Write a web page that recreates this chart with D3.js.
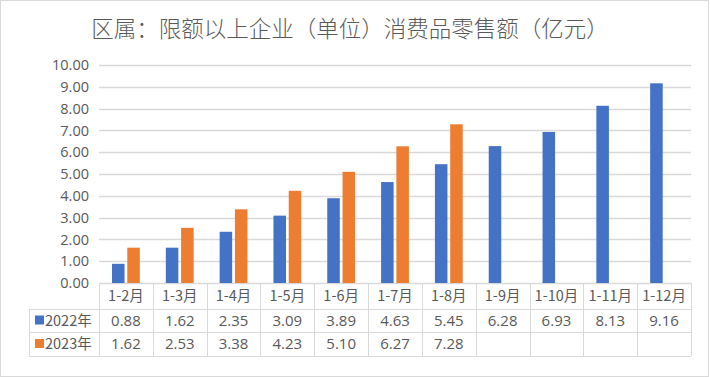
<!DOCTYPE html>
<html lang="zh">
<head>
<meta charset="UTF-8">
<title>区属：限额以上企业（单位）消费品零售额</title>
<script src="https://d3js.org/d3.v7.min.js"></script>
<style>
    body { margin: 0; background: #fff; }
    svg { display: block; font-family: "Noto Sans CJK SC", "Noto Sans", sans-serif; }
</style>
</head>
<body>
<div id="chart"></div>
<script>
    // data
    var months = ['1-2月', '1-3月', '1-4月', '1-5月', '1-6月', '1-7月', '1-8月', '1-9月', '1-10月', '1-11月', '1-12月'];
    var seriesNames = ['2022年', '2023年'];
    var values2022 = [0.88, 1.62, 2.35, 3.09, 3.89, 4.63, 5.45, 6.28, 6.93, 8.13, 9.16];
    var values2023 = [1.62, 2.53, 3.38, 4.23, 5.10, 6.27, 7.28];
    var yTicks = [0, 1, 2, 3, 4, 5, 6, 7, 8, 9, 10];
    var colors = ['#4472C4', '#ED7D31'];

    var width = 710, height = 377;
    var plotLeft = 99, plotRight = 691, plotTop = 65, plotBottom = 283;
    var rowH = [26, 23, 24];   // header, 2022, 2023 rows
    var labelLeft = 29;
    var lineColor = '#D9D9D9', textColor = '#595959';

    var svg = d3.select('#chart').append('svg')
        .attr('width', width)
        .attr('height', height);

    // outer frame
    svg.append('rect')
        .attr('x', 0.5).attr('y', 0.5)
        .attr('width', width - 2).attr('height', height - 1)
        .attr('fill', '#fff')
        .attr('stroke', '#D9D9D9');

    // title
    svg.append('text')
        .attr('x', 350)
        .attr('y', 37)
        .attr('text-anchor', 'middle')
        .attr('fill', textColor)
        .style('font-size', '22.5px')
        .style('font-weight', '300')
        .text('区属：限额以上企业（单位）消费品零售额（亿元）');

    var x = d3.scaleBand().domain(months).range([plotLeft, plotRight]).paddingInner(0).paddingOuter(0);
    var xs = d3.scaleBand().domain(seriesNames).range([0, x.bandwidth()]).paddingInner(0.18).paddingOuter(0.85);
    var y = d3.scaleLinear().domain([0, 10]).range([plotBottom, plotTop]);

    // gridlines
    svg.append('g').selectAll('line')
        .data(yTicks)
        .enter().append('line')
        .attr('x1', plotLeft).attr('x2', plotRight)
        .attr('y1', d => Math.round(y(d)) + 0.5)
        .attr('y2', d => Math.round(y(d)) + 0.5)
        .attr('stroke', lineColor)
        .attr('stroke-width', 1.3);

    // y axis labels
    var yAxis = svg.append('g')
        .attr('transform', `translate(${plotLeft - 10},0)`)
        .call(d3.axisLeft(y).tickValues(yTicks).tickFormat(d3.format('.2f')).tickSize(0).tickPadding(0));
    yAxis.select('.domain').remove();
    yAxis.selectAll('text')
        .attr('fill', textColor)
        .style('font-size', '14.5px')
        .style('font-family', '"Open Sans", "Noto Sans", sans-serif');

    // bars
    var series = [values2022, values2023];
    series.forEach(function(vals, si) {
        svg.append('g').selectAll('rect')
            .data(vals)
            .enter().append('rect')
            .attr('x', (d, i) => x(months[i]) + xs(seriesNames[si]))
            .attr('width', xs.bandwidth())
            .attr('y', d => y(d))
            .attr('height', d => y(0) - y(d))
            .attr('fill', colors[si]);
    });

    // data table
    var table = svg.append('g');
    var rowY = [plotBottom, plotBottom + rowH[0], plotBottom + rowH[0] + rowH[1], plotBottom + rowH[0] + rowH[1] + rowH[2]];

    // horizontal table lines
    table.selectAll('line.h')
        .data(rowY)
        .enter().append('line')
        .attr('x1', (d, i) => i === 0 ? plotLeft : labelLeft)
        .attr('x2', plotRight)
        .attr('y1', d => d + 0.5).attr('y2', d => d + 0.5)
        .attr('stroke', lineColor);

    // vertical table lines
    var bounds = months.map(m => x(m)).concat([plotRight]);
    table.selectAll('line.v')
        .data(bounds)
        .enter().append('line')
        .attr('x1', d => Math.round(d) + 0.5).attr('x2', d => Math.round(d) + 0.5)
        .attr('y1', plotBottom).attr('y2', rowY[3])
        .attr('stroke', lineColor);
    table.append('line')
        .attr('x1', labelLeft + 0.5).attr('x2', labelLeft + 0.5)
        .attr('y1', rowY[1]).attr('y2', rowY[3])
        .attr('stroke', lineColor);

    // header labels
    table.selectAll('text.month')
        .data(months)
        .enter().append('text')
        .attr('x', d => x(d) + x.bandwidth() / 2)
        .attr('y', rowY[0] + rowH[0] / 2 + 5)
        .attr('text-anchor', 'middle')
        .attr('fill', textColor)
        .style('font-size', '14.5px')
        .text(d => d);

    // value rows
    series.forEach(function(vals, si) {
        var cy = rowY[si + 1] + rowH[si + 1] / 2 + 5;
        table.append('g').selectAll('text')
            .data(vals)
            .enter().append('text')
            .attr('x', (d, i) => x(months[i]) + x.bandwidth() / 2)
            .attr('y', cy)
            .attr('text-anchor', 'middle')
            .attr('fill', textColor)
            .style('font-size', '15px')
            .style('font-family', '"Open Sans", "Noto Sans", sans-serif')
            .text(d => d.toFixed(2));

        // legend key
        table.append('rect')
            .attr('x', 35).attr('y', cy - 10)
            .attr('width', 9).attr('height', 9)
            .attr('fill', colors[si]);
        table.append('text')
            .attr('x', 45).attr('y', cy)
            .attr('fill', textColor)
            .style('font-size', '14.5px')
            .text(seriesNames[si]);
    });
</script>
</body>
</html>
